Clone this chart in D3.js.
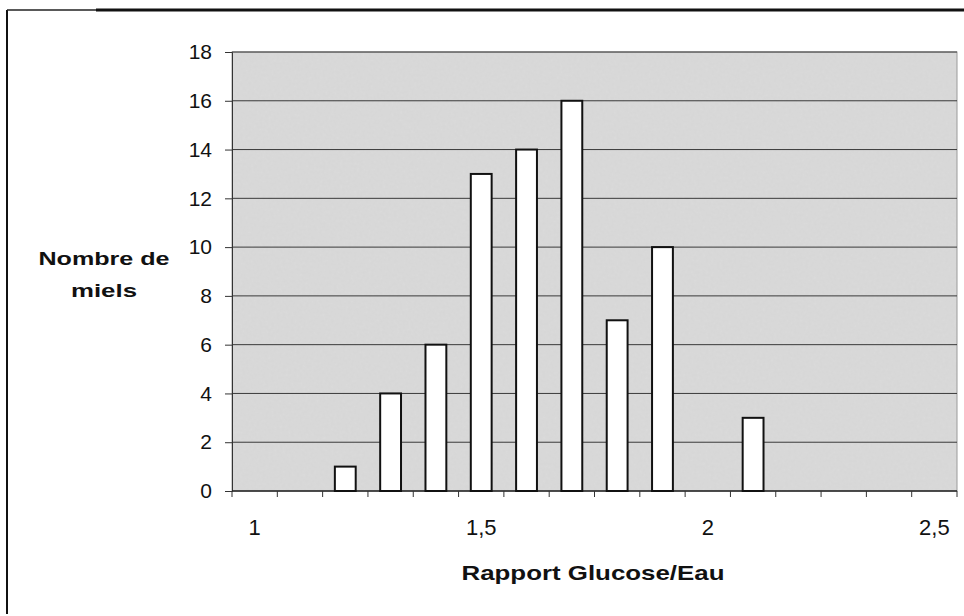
<!DOCTYPE html>
<html>
<head>
<meta charset="utf-8">
<script src="https://cdn.jsdelivr.net/npm/d3@7"></script>
<style>
  body { margin: 0; background: #fff; }
  svg { display: block; font-family: "Liberation Sans", Arial, sans-serif; }
</style>
</head>
<body>
<svg width="964" height="616"></svg>
<script>
const width = 964, height = 616;

// bins of the glucose/water ratio and number of honeys in each
const categories = ["1", "1,1", "1,2", "1,3", "1,4", "1,5", "1,6", "1,7", "1,8", "1,9", "2", "2,1", "2,2", "2,3", "2,4", "2,5"];
const counts = [0, 0, 1, 4, 6, 13, 14, 16, 7, 10, 0, 3, 0, 0, 0, 0];
const xLabels = ["1", "1,5", "2", "2,5"];
const yTicks = [0, 2, 4, 6, 8, 10, 12, 14, 16, 18];

const margin = { left: 232, right: 7, top: 52, bottom: 125 };

const svg = d3.select("svg");

// slight grain on the grey plot area, like the scanned original
const defs = svg.append("defs");
const grain = defs.append("filter").attr("id", "grain")
    .attr("x", 0).attr("y", 0).attr("width", 1).attr("height", 1);
grain.append("feTurbulence")
    .attr("type", "fractalNoise").attr("baseFrequency", 0.35)
    .attr("numOctaves", 2).attr("seed", 3).attr("result", "noise");
grain.append("feColorMatrix")
    .attr("in", "noise").attr("type", "matrix")
    .attr("values", "0 0 0 0 0.84  0 0 0 0 0.84  0 0 0 0 0.84  0 0 0 0.18 0")
    .attr("result", "tint");
grain.append("feComposite").attr("in", "tint").attr("in2", "SourceGraphic").attr("operator", "over");

// outer frame (only left and top edges are visible)
svg.append("line")
    .attr("x1", 7).attr("y1", 10).attr("x2", 7).attr("y2", 614)
    .attr("stroke", "#111").attr("stroke-width", 2);
svg.append("line")
    .attr("x1", 7).attr("y1", 10).attr("x2", 96).attr("y2", 10)
    .attr("stroke", "#222").attr("stroke-width", 1.5);
svg.append("line")
    .attr("x1", 96).attr("y1", 10).attr("x2", width).attr("y2", 10)
    .attr("stroke", "#111").attr("stroke-width", 3);

const x = d3.scaleBand()
    .domain(categories)
    .range([margin.left, width - margin.right])
    .paddingInner(0.54)
    .paddingOuter(0.27);

const xOuter = d3.scaleBand()
    .domain(categories)
    .range([margin.left, width - margin.right]);

const y = d3.scaleLinear()
    .domain([0, 18])
    .range([height - margin.bottom, margin.top]);

// plot background
svg.append("rect")
    .attr("x", margin.left)
    .attr("y", margin.top)
    .attr("width", width - margin.right - margin.left)
    .attr("height", y(0) - margin.top)
    .attr("fill", "#d6d6d6")
    .attr("filter", "url(#grain)");
svg.append("rect")
    .attr("x", margin.left)
    .attr("y", margin.top)
    .attr("width", width - margin.right - margin.left)
    .attr("height", y(0) - margin.top)
    .attr("fill", "none")
    .attr("stroke", "#9a9a9a");

// gridlines
svg.append("g")
    .selectAll("line")
    .data(yTicks.filter(d => d > 0))
    .enter().append("line")
    .attr("x1", margin.left)
    .attr("x2", width - margin.right)
    .attr("y1", d => y(d))
    .attr("y2", d => y(d))
    .attr("stroke", "#3a3a3a")
    .attr("stroke-width", 1);

// y axis
const yAxis = svg.append("g")
    .attr("transform", `translate(${margin.left},0)`)
    .call(d3.axisLeft(y).tickValues(yTicks).tickSize(7).tickPadding(13));
yAxis.select(".domain").attr("stroke", "#333");
yAxis.selectAll(".tick line").attr("stroke", "#333");
yAxis.selectAll("text")
    .style("font-size", "21px")
    .attr("fill", "#111")
    .style("font-family", "'Liberation Sans', Arial, sans-serif");

// x axis: ticks at bin boundaries, labels every fifth bin
const xAxis = svg.append("g")
    .attr("transform", `translate(0,${y(0)})`);
xAxis.append("line")
    .attr("x1", margin.left).attr("x2", width - margin.right)
    .attr("y1", 0).attr("y2", 0)
    .attr("stroke", "#222").attr("stroke-width", 1.5);
xAxis.selectAll(".tick")
    .data(categories.concat(["end"]))
    .enter().append("line")
    .attr("x1", (d, i) => i < categories.length ? xOuter(d) : width - margin.right)
    .attr("x2", (d, i) => i < categories.length ? xOuter(d) : width - margin.right)
    .attr("y1", 0).attr("y2", 6)
    .attr("stroke", "#333");
xAxis.selectAll("text")
    .data(xLabels)
    .enter().append("text")
    .attr("x", d => xOuter(d) + xOuter.bandwidth() / 2)
    .attr("y", 44)
    .attr("text-anchor", "middle")
    .attr("font-size", 22)
    .attr("fill", "#111")
    .text(d => d);

// bars
svg.append("g")
    .selectAll("rect")
    .data(categories.map((c, i) => ({ c, v: counts[i] })).filter(d => d.v > 0))
    .enter().append("rect")
    .attr("x", d => x(d.c))
    .attr("y", d => y(d.v))
    .attr("width", x.bandwidth())
    .attr("height", d => y(0) - y(d.v))
    .attr("fill", "#fff")
    .attr("stroke", "#111")
    .attr("stroke-width", 2);

// axis titles (the original lettering is wide, hence textLength)
svg.append("text")
    .attr("x", 593)
    .attr("y", 580)
    .attr("text-anchor", "middle")
    .attr("font-size", 21)
    .attr("font-weight", "bold")
    .attr("fill", "#111")
    .attr("textLength", 263)
    .attr("lengthAdjust", "spacingAndGlyphs")
    .text("Rapport Glucose/Eau");

svg.append("text")
    .attr("x", 104)
    .attr("y", 265)
    .attr("text-anchor", "middle")
    .attr("font-size", 19)
    .attr("font-weight", "bold")
    .attr("fill", "#111")
    .attr("textLength", 131)
    .attr("lengthAdjust", "spacingAndGlyphs")
    .text("Nombre de");
svg.append("text")
    .attr("x", 104)
    .attr("y", 297)
    .attr("text-anchor", "middle")
    .attr("font-size", 19)
    .attr("font-weight", "bold")
    .attr("fill", "#111")
    .attr("textLength", 66)
    .attr("lengthAdjust", "spacingAndGlyphs")
    .text("miels");
</script>
</body>
</html>
